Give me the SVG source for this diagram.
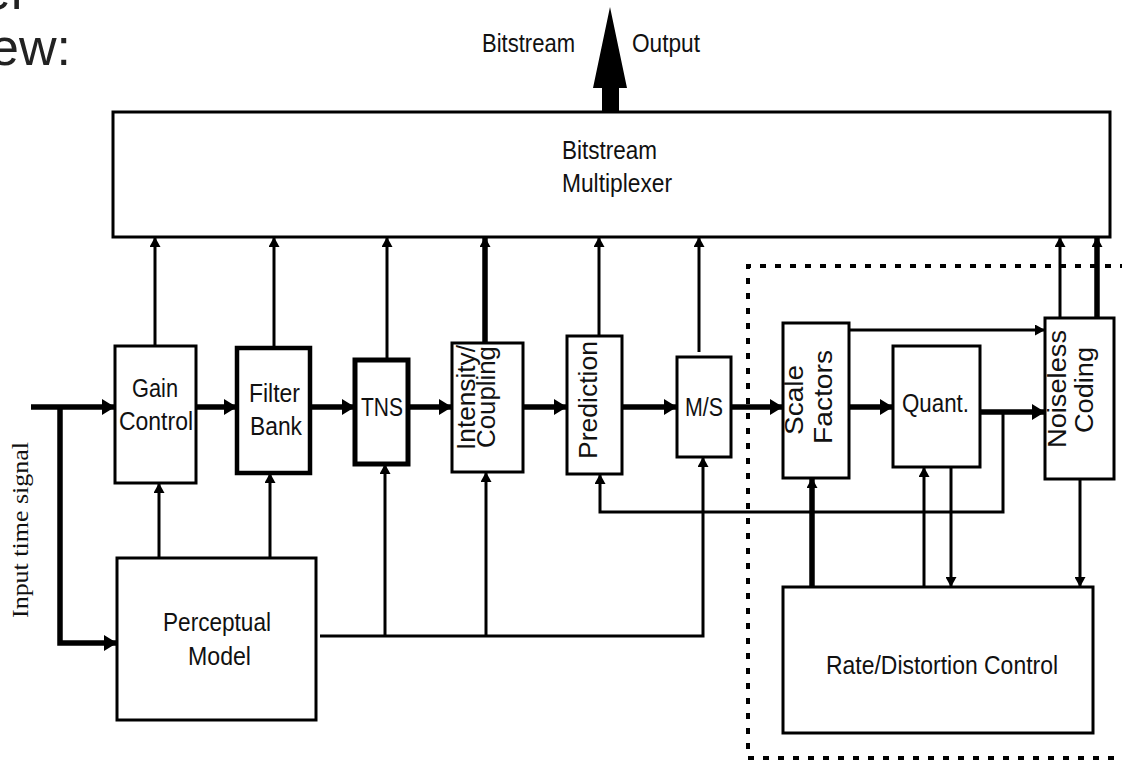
<svg xmlns="http://www.w3.org/2000/svg" width="1122" height="765" viewBox="0 0 1122 765">
<style>
.bx{fill:#fff;stroke:#000;stroke-width:3}
.t{font-family:"Liberation Sans",Arial,sans-serif;font-size:25px;fill:#111}
.ts{font-family:"Liberation Serif","Times New Roman",serif;font-size:23px;fill:#111}
.c{fill:none;stroke:#000;stroke-width:3}
.k{fill:none;stroke:#000;stroke-width:5.5}
</style>
<defs>
<marker id="ab" markerUnits="userSpaceOnUse" markerWidth="13" markerHeight="16" refX="13" refY="8" orient="auto"><path d="M0,0 L13,8 L0,16 z"/></marker>
<marker id="as" markerUnits="userSpaceOnUse" markerWidth="10" markerHeight="11" refX="10" refY="5.5" orient="auto"><path d="M0,0 L10,5.5 L0,11 z"/></marker>
</defs>
<rect width="1122" height="765" fill="#fff"/>
<g id="title">
<text x="28" y="9" text-anchor="end" style="font-family:'Liberation Sans',Arial,sans-serif;font-size:52px;fill:#222">er</text>
<text x="71" y="65" text-anchor="end" style="font-family:'Liberation Sans',Arial,sans-serif;font-size:52px;fill:#222">ew:</text>
</g>
<g id="output">
<polygon points="610,7 627,88 619,88 619,113 602,113 602,88 593,88" fill="#000"/>
<text class="t" x="482" y="52" textLength="93" lengthAdjust="spacingAndGlyphs">Bitstream</text>
<text class="t" x="632" y="52" textLength="68" lengthAdjust="spacingAndGlyphs">Output</text>
</g>
<g id="dashed-region">
<path d="M1126,266 H748 V758 H1126" fill="none" stroke="#000" stroke-width="4" stroke-dasharray="6 9"/>
</g>
<g id="mux">
<rect class="bx" x="113" y="112" width="997" height="125"/>
<text class="t" x="562" y="159" textLength="95" lengthAdjust="spacingAndGlyphs">Bitstream</text>
<text class="t" x="562" y="192" textLength="110" lengthAdjust="spacingAndGlyphs">Multiplexer</text>
</g>
<g id="gain-control">
<rect class="bx" x="115" y="346" width="81" height="137"/>
<text class="t" x="132" y="397" textLength="46" lengthAdjust="spacingAndGlyphs">Gain</text>
<text class="t" x="119" y="430" textLength="74" lengthAdjust="spacingAndGlyphs">Control</text>
</g>
<g id="filter-bank">
<rect class="bx" x="237" y="348" width="73" height="125" style="stroke-width:4.5"/>
<text class="t" x="249" y="402" textLength="51" lengthAdjust="spacingAndGlyphs">Filter</text>
<text class="t" x="250" y="435" textLength="52" lengthAdjust="spacingAndGlyphs">Bank</text>
</g>
<g id="tns">
<rect class="bx" x="355" y="360" width="53" height="104" style="stroke-width:5"/>
<text class="t" x="361" y="416" textLength="42" lengthAdjust="spacingAndGlyphs">TNS</text>
</g>
<g id="intensity">
<rect class="bx" x="452" y="343" width="71" height="129"/>
<text class="t" transform="translate(475,450) rotate(-90)" textLength="105" lengthAdjust="spacingAndGlyphs">Intensity/</text>
<text class="t" transform="translate(495,448) rotate(-90)" textLength="102" lengthAdjust="spacingAndGlyphs">Coupling</text>
</g>
<g id="prediction">
<rect class="bx" x="567" y="336" width="55" height="138"/>
<text class="t" transform="translate(597,459) rotate(-90)" textLength="118" lengthAdjust="spacingAndGlyphs">Prediction</text>
</g>
<g id="ms">
<rect class="bx" x="677" y="357" width="54" height="100"/>
<text class="t" x="685" y="416" textLength="38" lengthAdjust="spacingAndGlyphs">M/S</text>
</g>
<g id="scale-factors">
<rect class="bx" x="783" y="323" width="66" height="155"/>
<text class="t" transform="translate(803,435) rotate(-90)" textLength="70" lengthAdjust="spacingAndGlyphs">Scale</text>
<text class="t" transform="translate(832,444) rotate(-90)" textLength="94" lengthAdjust="spacingAndGlyphs">Factors</text>
</g>
<g id="quant">
<rect class="bx" x="893" y="346" width="87" height="121"/>
<text class="t" x="902" y="412" textLength="67" lengthAdjust="spacingAndGlyphs">Quant.</text>
</g>
<g id="noiseless-coding">
<rect class="bx" x="1045" y="318" width="69" height="161"/>
<text class="t" transform="translate(1066,448) rotate(-90)" textLength="118" lengthAdjust="spacingAndGlyphs">Noiseless</text>
<text class="t" transform="translate(1093,433) rotate(-90)" textLength="86" lengthAdjust="spacingAndGlyphs">Coding</text>
</g>
<g id="perceptual-model">
<rect class="bx" x="117" y="558" width="199" height="162"/>
<text class="t" x="163" y="631" textLength="108" lengthAdjust="spacingAndGlyphs">Perceptual</text>
<text class="t" x="188" y="665" textLength="63" lengthAdjust="spacingAndGlyphs">Model</text>
</g>
<g id="rate-distortion">
<rect class="bx" x="783" y="587" width="310" height="146"/>
<text class="t" x="826" y="674" textLength="232" lengthAdjust="spacingAndGlyphs">Rate/Distortion Control</text>
</g>
<g id="input-label">
<text class="ts" transform="translate(28,618) rotate(-90)" textLength="176" lengthAdjust="spacingAndGlyphs">Input time signal</text>
</g>
<g id="connectors">
<path class="k" d="M31,407 H115" marker-end="url(#ab)"/>
<path class="k" d="M60,407 V643 H117" marker-end="url(#ab)"/>
<path class="k" d="M196,407 H237" marker-end="url(#ab)"/>
<path class="k" d="M310,407 H355" marker-end="url(#ab)"/>
<path class="k" d="M408,407 H452" marker-end="url(#ab)"/>
<path class="k" d="M523,407 H567" marker-end="url(#ab)"/>
<path class="k" d="M622,407 H677" marker-end="url(#ab)"/>
<path class="k" d="M731,407 H783" marker-end="url(#ab)"/>
<path class="k" d="M849,407 H893" marker-end="url(#ab)"/>
<path class="k" d="M980,412 H1045" marker-end="url(#ab)"/>
<path class="c" d="M155,346 V237" marker-end="url(#as)"/>
<path class="c" d="M274,348 V237" marker-end="url(#as)"/>
<path class="c" d="M387,360 V237" marker-end="url(#as)"/>
<path class="k" d="M485,343 V237" marker-end="url(#as)"/>
<path class="c" d="M599,336 V237" marker-end="url(#as)"/>
<path class="c" d="M699,352 V237" marker-end="url(#as)"/>
<path class="c" d="M1060,318 V237" marker-end="url(#as)"/>
<path class="k" d="M1097,318 V237" marker-end="url(#as)"/>
<path class="c" d="M159,558 V483" marker-end="url(#as)"/>
<path class="c" d="M270,558 V473" marker-end="url(#as)"/>
<path class="c" d="M320,636 H703 V457" marker-end="url(#as)"/>
<path class="c" d="M385,636 V464" marker-end="url(#as)"/>
<path class="c" d="M486,636 V472" marker-end="url(#as)"/>
<path class="c" d="M1003,412 V512 H600 V474" marker-end="url(#as)"/>
<path class="c" d="M849,330 H1045" marker-end="url(#as)"/>
<path class="k" d="M812,587 V478" marker-end="url(#as)"/>
<path class="c" d="M924,587 V467" marker-end="url(#as)"/>
<path class="c" d="M951,467 V587" marker-end="url(#as)"/>
<path class="c" d="M1080,479 V587" marker-end="url(#as)"/>
</g>
</svg>
